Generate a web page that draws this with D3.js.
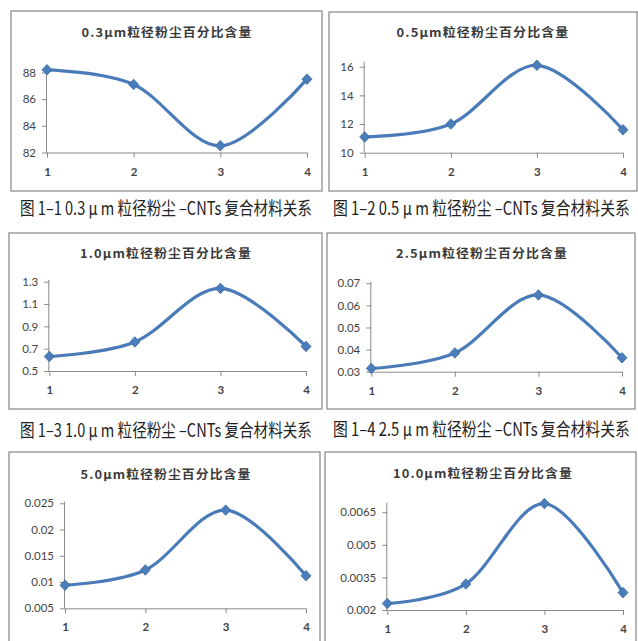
<!DOCTYPE html>
<html>
<head>
<meta charset="utf-8">
<script src="https://cdn.jsdelivr.net/npm/d3@7"></script>
<style>
html,body{margin:0;padding:0;background:#fff;}
svg{display:block;}
</style>
</head>
<body>
<svg id="chart" width="638" height="641"></svg>
<script>
// ---- data ----
const categories = [1, 2, 3, 4];
const titles = ["0.3μm粒径粉尘百分比含量","0.5μm粒径粉尘百分比含量","1.0μm粒径粉尘百分比含量","2.5μm粒径粉尘百分比含量","5.0μm粒径粉尘百分比含量","10.0μm粒径粉尘百分比含量"];
const captions = ["图 1–1 0.3 μ m 粒径粉尘 –CNTs 复合材料关系","图 1–2 0.5 μ m 粒径粉尘 –CNTs 复合材料关系","图 1–3 1.0 μ m 粒径粉尘 –CNTs 复合材料关系","图 1–4 2.5 μ m 粒径粉尘 –CNTs 复合材料关系"];
const values03 = [88.2, 87.1, 82.5, 87.5];
const values05 = [11.1, 12.0, 16.1, 11.6];
const values10 = [0.63, 0.76, 1.24, 0.72];
const values25 = [0.0315, 0.0385, 0.0647, 0.0363];
const values50 = [0.0094, 0.0123, 0.0237, 0.0112];
const values100 = [0.0023, 0.0032, 0.0069, 0.0028];
const ticks03 = ["82","84","86","88"];
const ticks05 = ["10","12","14","16"];
const ticks10 = ["0.5","0.7","0.9","1.1","1.3"];
const ticks25 = ["0.03","0.04","0.05","0.06","0.07"];
const ticks50 = ["0.005","0.01","0.015","0.02","0.025"];
const ticks100 = ["0.002","0.0035","0.005","0.0065"];
const domains = [[82, 88.56],[10, 16.35],[0.5, 1.315],[0.03, 0.0707],[0.005, 0.0253],[0.002, 0.00694]];
const seriesList = [values03, values05, values10, values25, values50, values100];
const tickList = [ticks03, ticks05, ticks10, ticks25, ticks50, ticks100];

// ---- layout ----
const layout = [
  {box:[11,11,322,191],  px:[47,307],  py:[152.5,65],   tx:167, ty:32,  tl:171, cap:[20,312,217]},
  {box:[329,12,637,191], px:[364.7,623], py:[152.7,61.7], tx:483, ty:32,  tl:173, cap:[333,630,217]},
  {box:[9,233,322,409],  px:[49.3,306], py:[371,280],    tx:166, ty:253, tl:172, cap:[20,312,439]},
  {box:[327,233,635,409],px:[371.3,622], py:[371.7,281.7],tx:482, ty:253, tl:172, cap:[333,630,438]},
  {box:[9,452,320,660],  px:[65,306],  py:[608.3,501.7], tx:166, ty:474, tl:171, cap:null},
  {box:[325,452,636,660],px:[387.3,623], py:[610,502.7],  tx:483, ty:473, tl:180, cap:null}
];

const svg = d3.select("#chart");
svg.append("rect").attr("width",638).attr("height",641).attr("fill","#fff");

const lineColor = "#4a7bb9";
const axisColor = "#8a8a8a";

// fit a text to a width by horizontal scaling (keeps bbox honest)
function fitText(sel, x, y, width, anchor) {
  const natural = sel.node().getComputedTextLength();
  const s = width / natural;
  const tx = anchor === "middle" ? x : x;
  sel.attr("x", 0).attr("y", 0)
     .attr("transform", `translate(${tx},${y}) scale(${s},1)`);
}

layout.forEach((L, i) => {
  const g = svg.append("g");
  const [x0,y0,x1,y1] = L.box;
  g.append("rect").attr("x",x0).attr("y",y0).attr("width",x1-x0).attr("height",y1-y0)
    .attr("fill","#fff").attr("stroke","#8f8f8f").attr("stroke-width",1.3);

  const x = d3.scalePoint().domain(categories).range(L.px);
  const y = d3.scaleLinear().domain(domains[i]).range(L.py);

  // title
  const t = g.append("text").attr("text-anchor","middle")
    .attr("dominant-baseline","central")
    .attr("font-family","'Noto Sans CJK SC', 'Noto Sans', sans-serif").attr("font-weight","bold")
    .attr("font-size",12).attr("fill","#3a3a3a")
    .attr("letter-spacing", 1)
    .text(titles[i]);
  fitText(t, L.tx, L.ty, L.tl, "middle");

  // y axis
  const ya = d3.axisLeft(y).tickValues(tickList[i].map(Number)).tickSize(5).tickPadding(6)
    .tickFormat((d,k) => tickList[i][k]);
  const yg = g.append("g").attr("transform",`translate(${L.px[0]},0)`).call(ya);
  yg.select(".domain").attr("stroke",axisColor).attr("d",`M-0.5,${L.py[0]}V${L.py[1]}`);
  yg.selectAll(".tick line").attr("stroke",axisColor);
  yg.selectAll("text").attr("font-family","Lato, 'Liberation Sans', sans-serif")
    .attr("font-size",11.5).attr("fill","#444");

  // x axis
  const xa = d3.axisBottom(x).tickSize(5).tickPadding(10);
  const xg = g.append("g").attr("transform",`translate(0,${L.py[0]})`).call(xa);
  xg.select(".domain").attr("stroke",axisColor).attr("d",`M${L.px[0]},0.5H${L.px[1]}`);
  xg.selectAll(".tick line").attr("stroke",axisColor);
  xg.selectAll("text").attr("font-family","Lato, 'Liberation Sans', sans-serif")
    .attr("font-size",11.5).attr("font-weight","bold").attr("fill","#444");

  // line
  const data = seriesList[i].map((v,k) => ({c:categories[k], v}));
  const line = d3.line().x(d => x(d.c)).y(d => y(d.v)).curve(d3.curveCardinal.tension(0));
  g.append("path").datum(data).attr("d",line).attr("fill","none")
    .attr("stroke",lineColor).attr("stroke-width",3.2).attr("stroke-linejoin","round");

  // markers
  g.selectAll("path.mk").data(data).join("path").attr("class","mk")
    .attr("d", d3.symbol(d3.symbolDiamond2, 64))
    .attr("transform", d => `translate(${x(d.c)},${y(d.v)}) scale(1,1.05)`)
    .attr("fill","#4a7ebb").attr("stroke","#3d6ba3").attr("stroke-width",0.8);

  // caption
  if (L.cap) {
    const c = g.append("text")
      .attr("font-family","'Noto Sans CJK SC', sans-serif").attr("font-size",18)
      .attr("fill","#222")
      .text(captions[i]);
    fitText(c, L.cap[0], L.cap[2]-2.5, L.cap[1]-L.cap[0], "start");
  }
});
</script>
</body>
</html>
